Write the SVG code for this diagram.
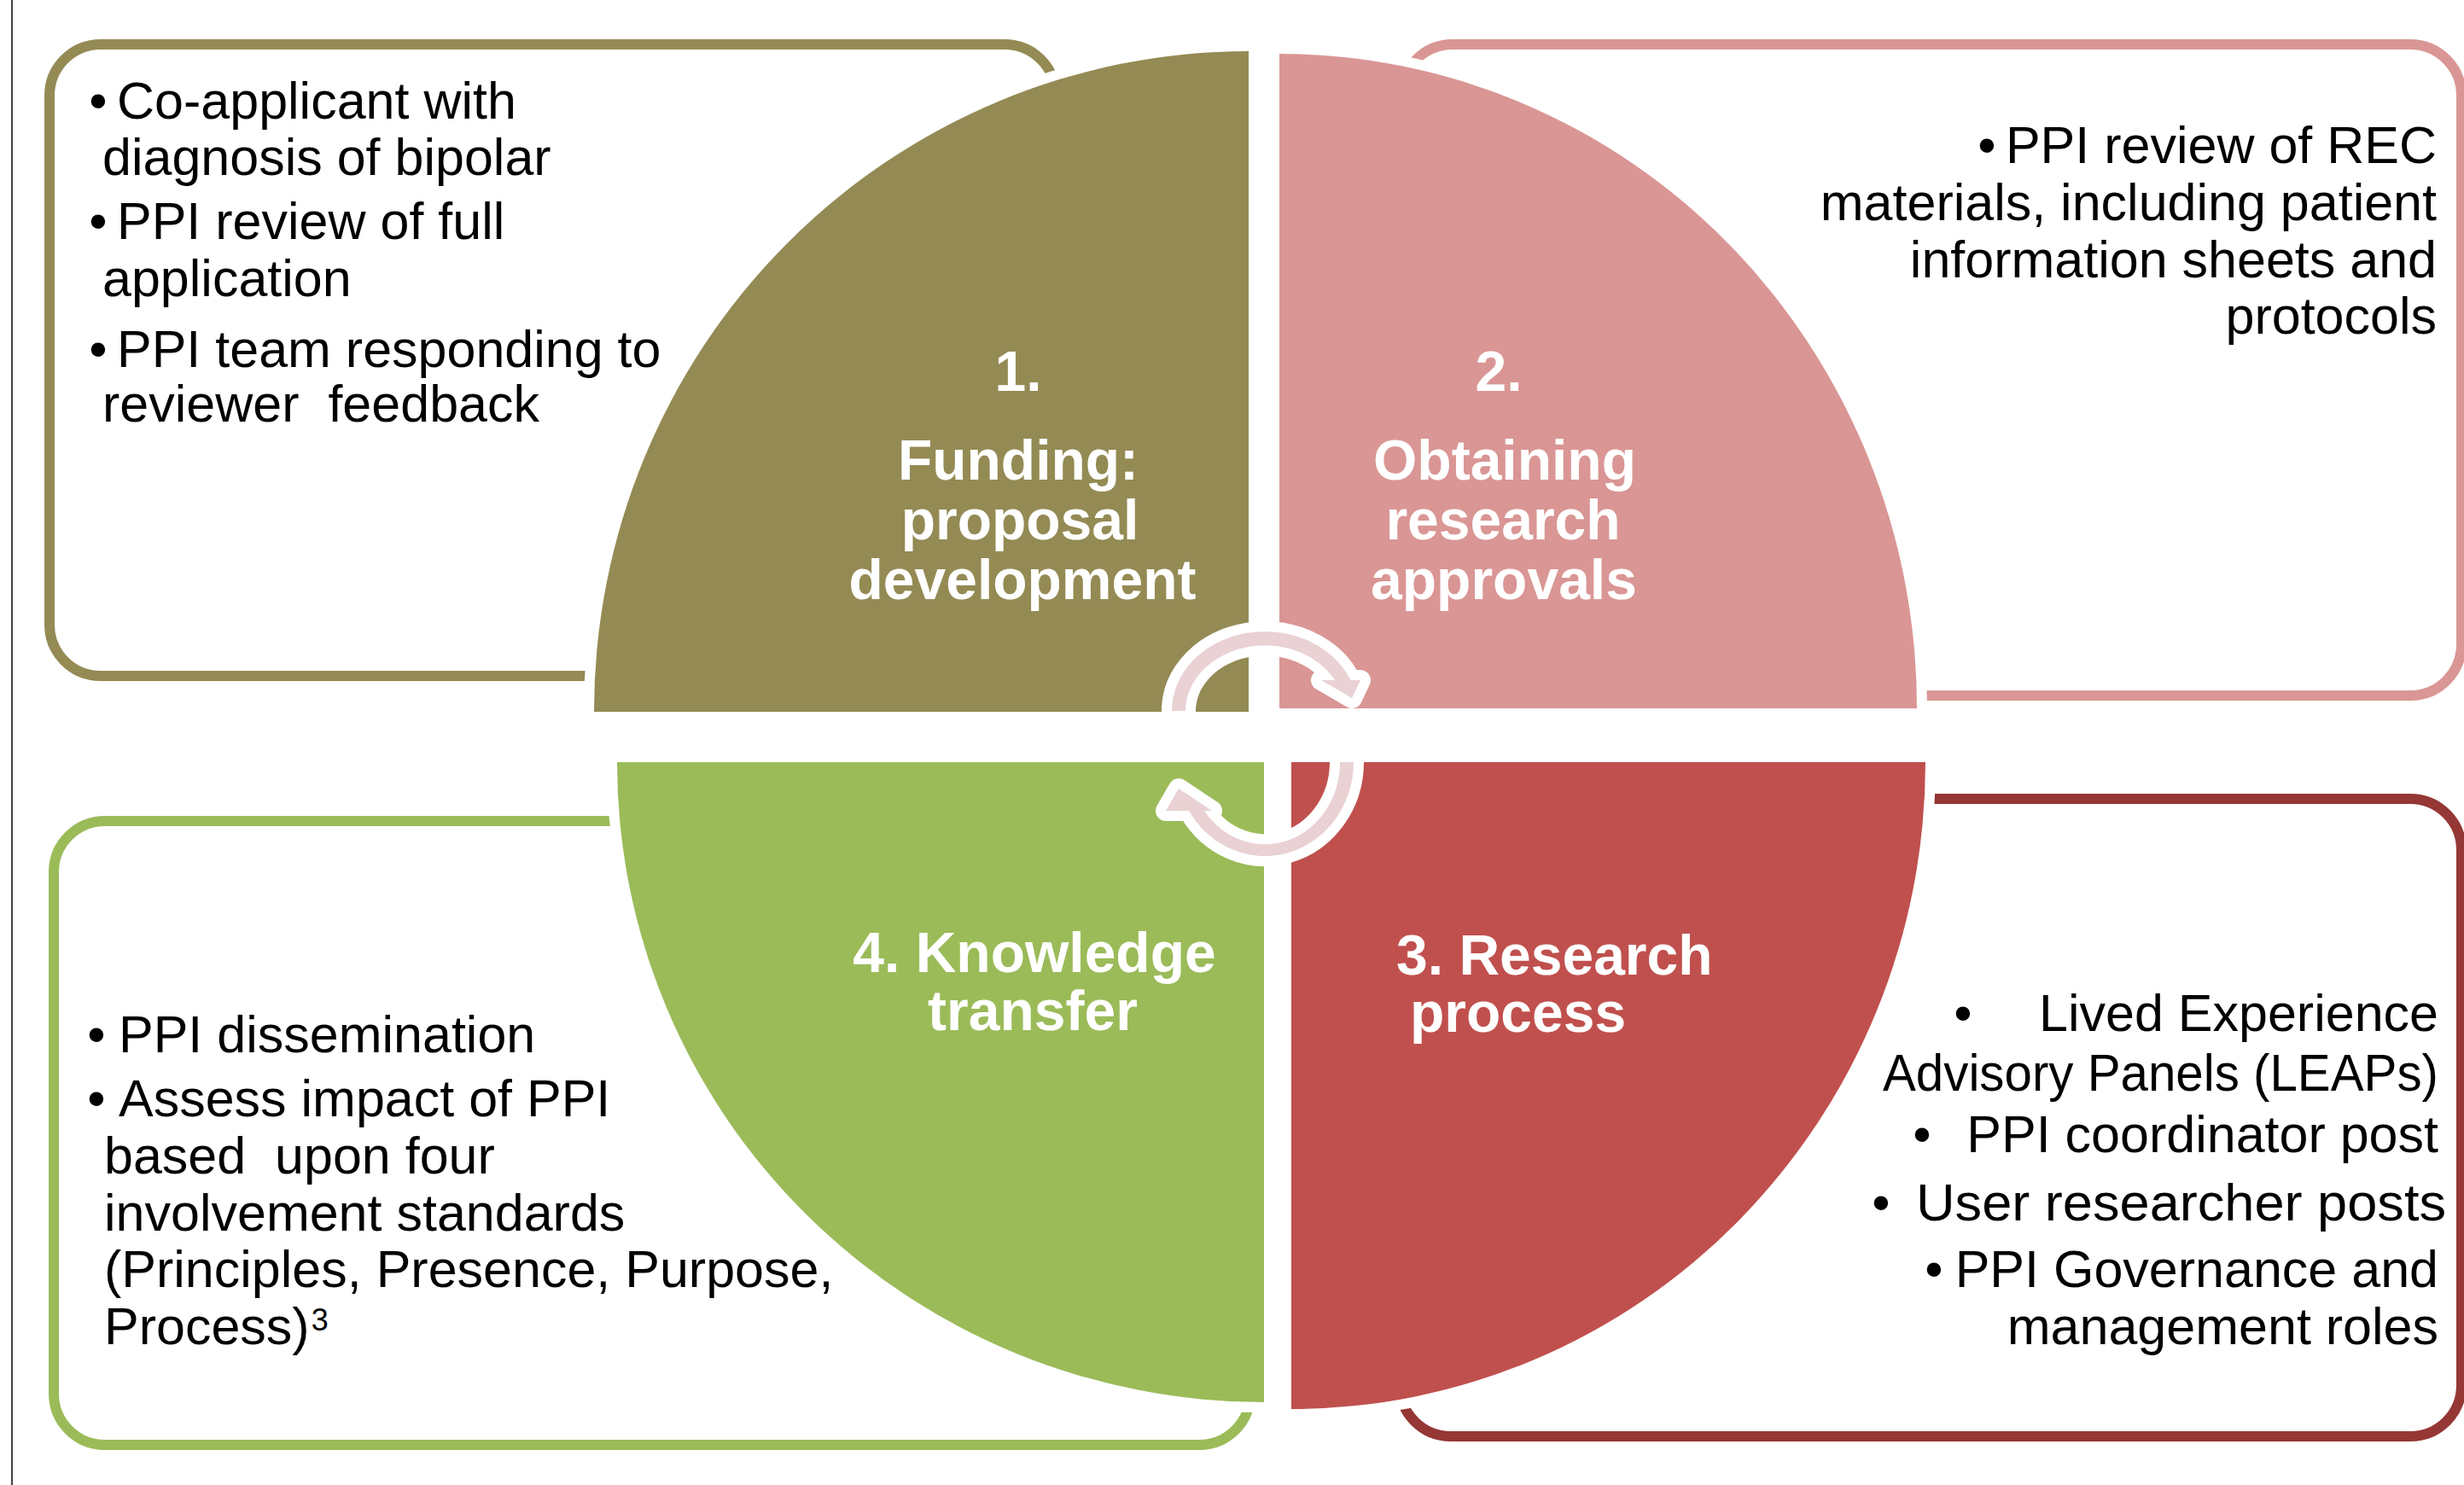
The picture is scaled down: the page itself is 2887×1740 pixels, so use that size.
<svg xmlns="http://www.w3.org/2000/svg" width="2887" height="1740" viewBox="0 0 2887 1740">
  <style>
    .box { fill: #ffffff; stroke-width: 12; }
    .quad { stroke: #ffffff; stroke-width: 24; paint-order: stroke; }
    .body { font-family: "Liberation Sans", Arial, sans-serif; font-size: 61px; fill: #000000; white-space: pre; }
    .bullet { font-family: "Liberation Sans", Arial, sans-serif; font-size: 61px; fill: #000000; text-anchor: middle; }
    .end { text-anchor: end; }
    .label { font-family: "Liberation Sans", Arial, sans-serif; font-size: 66px; font-weight: bold; fill: #ffffff; text-anchor: middle; }
    .label-left { text-anchor: start; }
    .arrow { fill: #E9D1D4; stroke: #ffffff; stroke-width: 24; stroke-linejoin: round; paint-order: stroke; }
  </style>

  <rect x="0" y="0" width="2887" height="1740" fill="#ffffff"/>
  <!-- page edge -->
  <line x1="14" y1="0" x2="14" y2="1740" stroke="#444444" stroke-width="2"/>

  <!-- 1. Funding: proposal development -->
  <g id="stage-funding">
    <rect class="box" x="58" y="52" width="1179" height="740" rx="60" ry="60" stroke="#948A54"/>
    <path class="quad" fill="#948A54" d="M 1463 834 L 696 834 A 767 774 0 0 1 1463 60 Z"/>
    <text class="bullet" x="115" y="139">•</text>
    <text class="body" x="137" y="139">Co-applicant with</text>
    <text class="body" x="120" y="205">diagnosis of bipolar</text>
    <text class="bullet" x="115" y="280">•</text>
    <text class="body" x="137" y="280">PPI review of full</text>
    <text class="body" x="120" y="347">application</text>
    <text class="bullet" x="115" y="430">•</text>
    <text class="body" x="137" y="430">PPI team responding to</text>
    <text class="body" x="120" y="494">reviewer  feedback</text>
    <text class="label" x="1193" y="458">1.</text>
    <text class="label" x="1193" y="562">Funding:</text>
    <text class="label" x="1195" y="632">proposal</text>
    <text class="label" x="1198" y="702">development</text>
  </g>

  <!-- 2. Obtaining research approvals -->
  <g id="stage-approvals">
    <rect class="box" x="1642" y="52" width="1242" height="763" rx="60" ry="60" stroke="#D99694"/>
    <path class="quad" fill="#D99694" d="M 1499 830 L 1499 63 A 747 767 0 0 1 2246 830 Z"/>
    <text class="bullet" x="2328" y="191">•</text>
    <text class="body end" x="2855" y="191">PPI review of REC</text>
    <text class="body end" x="2855" y="258">materials, including patient</text>
    <text class="body end" x="2855" y="325">information sheets and</text>
    <text class="body end" x="2855" y="391">protocols</text>
    <text class="label" x="1756" y="458">2.</text>
    <text class="label" x="1763" y="562">Obtaining</text>
    <text class="label" x="1761" y="632">research</text>
    <text class="label" x="1762" y="702">approvals</text>
  </g>

  <!-- 3. Research process -->
  <g id="stage-research">
    <rect class="box" x="1640" y="936" width="1244" height="747" rx="60" ry="60" stroke="#953735"/>
    <path class="quad" fill="#C0504D" d="M 1513 893 L 2256 893 A 743 758 0 0 1 1513 1651 Z"/>
    <text class="bullet" x="2300" y="1208">•</text>
    <text class="body end" x="2857" y="1208">Lived Experience</text>
    <text class="body end" x="2857" y="1278" textLength="651" lengthAdjust="spacingAndGlyphs">Advisory Panels (LEAPs)</text>
    <text class="bullet" x="2252" y="1350">•</text>
    <text class="body end" x="2857" y="1350">PPI coordinator post</text>
    <text class="bullet" x="2204" y="1430">•</text>
    <text class="body end" x="2866" y="1430" textLength="621" lengthAdjust="spacingAndGlyphs">User researcher posts</text>
    <text class="bullet" x="2266" y="1508">•</text>
    <text class="body end" x="2857" y="1508">PPI Governance and</text>
    <text class="body end" x="2857" y="1575">management roles</text>
    <text class="label label-left" x="1636" y="1142">3. Research</text>
    <text class="label label-left" x="1652" y="1209">process</text>
  </g>

  <!-- 4. Knowledge transfer -->
  <g id="stage-knowledge">
    <rect class="box" x="63" y="962" width="1402" height="731" rx="60" ry="60" stroke="#9BBB59"/>
    <path class="quad" fill="#9BBB59" d="M 1481 893 L 1481 1643 A 758 750 0 0 1 723 893 Z"/>
    <text class="bullet" x="113" y="1233">•</text>
    <text class="body" x="139" y="1233">PPI dissemination</text>
    <text class="bullet" x="113" y="1308">•</text>
    <text class="body" x="139" y="1308">Assess impact of PPI</text>
    <text class="body" x="122" y="1375">based  upon four</text>
    <text class="body" x="122" y="1442">involvement standards</text>
    <text class="body" x="122" y="1508">(Principles, Presence, Purpose,</text>
    <text class="body" x="122" y="1575">Process)<tspan dx="2" dy="-16" font-size="36">3</tspan></text>
    <text class="label" x="1212" y="1139">4. Knowledge</text>
    <text class="label" x="1210" y="1207">transfer</text>
  </g>

  <!-- cycle arrows in the centre -->
  <g id="connectors">
    <path class="arrow" d="M 1373 833 A 109 93 0 0 1 1582.5 797 L 1594 797 L 1584 818 L 1548 797 L 1564 797 A 93 77 0 0 0 1389 833 Z"/>
    <path class="arrow" d="M 1586 893 A 104 110 0 0 1 1393 950 L 1366 950 L 1381 924 L 1420 950 L 1411 950 A 88 96 0 0 0 1570 893 Z"/>
  </g>
</svg>
